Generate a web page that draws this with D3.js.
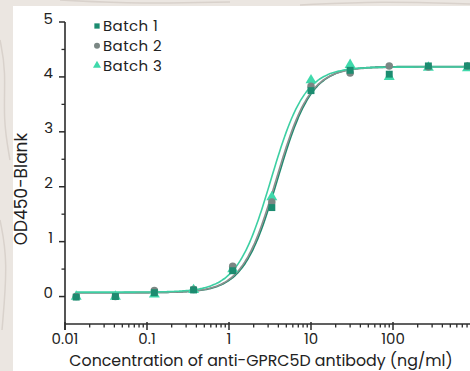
<!DOCTYPE html>
<html>
<head>
<meta charset="utf-8">
<script src="https://cdn.jsdelivr.net/npm/d3@7"></script>
<style>
  html, body { margin: 0; padding: 0; background: #ece7e2; }
  svg { display: block; }
</style>
</head>
<body>
<svg id="chart" width="470" height="371"></svg>
<script>
// Antibody concentrations (ng/ml), 3-fold serial dilution
const concentrations = [0.0137, 0.0412, 0.123, 0.37, 1.11, 3.33, 10, 30, 90, 270, 810];

// OD450 minus blank for each batch
const batch1 = [-0.01, 0.0, 0.07, 0.12, 0.47, 1.62, 3.75, 4.12, 4.05, 4.2, 4.2];
const batch2 = [0.0, 0.0, 0.11, 0.13, 0.55, 1.72, 3.83, 4.07, 4.2, 4.18, 4.2];
const batch3 = [0.0, 0.0, 0.04, 0.12, 0.5, 1.81, 3.94, 4.22, 4.0, 4.17, 4.16];

// Four-parameter logistic fit per batch: [bottom, top, EC50, Hill slope]
const fit1 = [0.07, 4.19, 3.9, 2.1];
const fit2 = [0.07, 4.18, 3.75, 2.1];
const fit3 = [0.08, 4.18, 3.25, 2.1];

const batchNames = ["Batch 1", "Batch 2", "Batch 3"];
const yTicks = [0, 1, 2, 3, 4, 5];
const xTicks = [0.01, 0.1, 1, 10, 100];
const xTickLabels = ["0.01", "0.1", "1", "10", "100"];

const series = [
  { name: batchNames[0], values: batch1, fit: fit1, color: "#1c8c70", line: "#1f8a6f", shape: d3.symbolSquare },
  { name: batchNames[1], values: batch2, fit: fit2, color: "#7b8784", line: "#8c8f8e", shape: d3.symbolCircle },
  { name: batchNames[2], values: batch3, fit: fit3, color: "#3fd9ab", line: "#3dcfa3", shape: d3.symbolTriangle }
];

const FONT = "Poppins, 'Noto Sans', sans-serif";
const svg = d3.select("#chart");

// white card on the textured backdrop
const bg = svg.append("g");
bg.append("rect").attr("x", 0).attr("y", 0).attr("width", 470).attr("height", 371).attr("fill", "#ebe6e1");
// faint marble veins
const veins = [[[0, 40], [6, 70], [3, 120], [10, 160]], [[0, 220], [8, 260], [2, 330]], [[60, 0], [140, 4], [230, 2]], [[300, 5], [380, 1], [470, 4]]];
veins.forEach(v => bg.append("path").attr("d", d3.line().curve(d3.curveBasis)(v))
  .attr("fill", "none").attr("stroke", "#d9d2cc").attr("stroke-width", 1.5));
svg.append("rect").attr("x", 13).attr("y", 6).attr("width", 457).attr("height", 365).attr("fill", "#ffffff");

const x = d3.scaleLog().domain([0.01, 1000]).range([65, 475]);
const y = d3.scaleLinear().domain([-0.5, 5]).range([324, 22]);

// x axis
const xMinor = [];
for (let e = -2; e < 3; e++) for (let m = 2; m <= 9; m++) xMinor.push(m * Math.pow(10, e));
const xAxisG = svg.append("g").attr("transform", `translate(0,${y(-0.5)})`);
xAxisG.append("line").attr("x1", x(0.01)).attr("x2", 470).attr("stroke", "#2b2b2b").attr("stroke-width", 1.6);
xAxisG.selectAll(".xminor").data(xMinor.filter(d => x(d) <= 470)).join("line")
  .attr("x1", d => x(d)).attr("x2", d => x(d)).attr("y1", 0).attr("y2", 3.5)
  .attr("stroke", "#2b2b2b").attr("stroke-width", 1.3);
xAxisG.selectAll(".xmajor").data(xTicks).join("line")
  .attr("x1", d => x(d)).attr("x2", d => x(d)).attr("y1", -2).attr("y2", 6)
  .attr("stroke", "#2b2b2b").attr("stroke-width", 1.5);
xAxisG.selectAll(".xlab").data(xTicks).join("text")
  .attr("x", d => x(d)).attr("y", 20).attr("text-anchor", "middle")
  .attr("font-family", FONT).attr("font-size", 15).attr("fill", "#222")
  .text((d, i) => xTickLabels[i]);

// y axis
const yMinor = d3.range(-0.5, 5, 1);
const yAxisG = svg.append("g").attr("transform", `translate(${x(0.01)},0)`);
yAxisG.append("line").attr("y1", y(5)).attr("y2", y(-0.5) + 6).attr("stroke", "#2b2b2b").attr("stroke-width", 1.6);
yAxisG.selectAll(".yminor").data(yMinor.filter(d => d > -0.5)).join("line")
  .attr("x1", -3.5).attr("x2", 0).attr("y1", d => y(d)).attr("y2", d => y(d))
  .attr("stroke", "#2b2b2b").attr("stroke-width", 1.3);
yAxisG.selectAll(".ymajor").data(yTicks).join("line")
  .attr("x1", -6).attr("x2", 0).attr("y1", d => y(d)).attr("y2", d => y(d))
  .attr("stroke", "#2b2b2b").attr("stroke-width", 1.5);
yAxisG.selectAll(".ylab").data(yTicks).join("text")
  .attr("x", -12).attr("y", d => y(d)).attr("dy", "0.1em").attr("text-anchor", "end")
  .attr("font-family", FONT).attr("font-size", 15).attr("fill", "#222")
  .text(d => d);

// axis titles
svg.append("text").attr("x", 261).attr("y", 366).attr("text-anchor", "middle")
  .attr("font-family", FONT).attr("font-size", 15.8).attr("fill", "#222")
  .text("Concentration of anti-GPRC5D antibody (ng/ml)");
svg.append("text").attr("transform", "translate(27,189) rotate(-90)").attr("text-anchor", "middle")
  .attr("font-family", FONT).attr("font-size", 17).attr("fill", "#222")
  .text("OD450-Blank");

// fitted curves
const logistic = (p, c) => p[0] + (p[1] - p[0]) / (1 + Math.pow(p[2] / c, p[3]));
const curveX = d3.range(Math.log10(concentrations[0]), Math.log10(concentrations[concentrations.length - 1]) + 0.001, 0.02)
  .map(e => Math.pow(10, e));
const line = d3.line().x(d => x(d[0])).y(d => y(d[1])).curve(d3.curveMonotoneX);
series.forEach(s => {
  svg.append("path").datum(curveX.map(c => [c, logistic(s.fit, c)]))
    .attr("d", line).attr("fill", "none").attr("stroke", s.line).attr("stroke-width", 1.6);
});

// data points, batch 3 underneath
[...series].reverse().forEach(s => {
  const size = s.shape === d3.symbolTriangle ? 52 : (s.shape === d3.symbolSquare ? 48 : 44);
  svg.append("g").selectAll("path").data(s.values).join("path")
    .attr("transform", (d, i) => `translate(${x(concentrations[i])},${y(d)})`)
    .attr("d", d3.symbol().type(s.shape).size(size))
    .attr("fill", s.color);
});

// legend
const legend = svg.append("g").attr("transform", "translate(97,26)");
series.forEach((s, i) => {
  const g = legend.append("g").attr("transform", `translate(0,${i * 19.7})`);
  g.append("path").attr("d", d3.symbol().type(s.shape).size(28)).attr("fill", s.color);
  g.append("text").attr("x", 6).attr("y", 0).attr("dy", "0.36em")
    .attr("font-family", FONT).attr("font-size", 15).attr("letter-spacing", 0.4)
    .attr("fill", "#222").text(s.name);
});
</script>
</body>
</html>
